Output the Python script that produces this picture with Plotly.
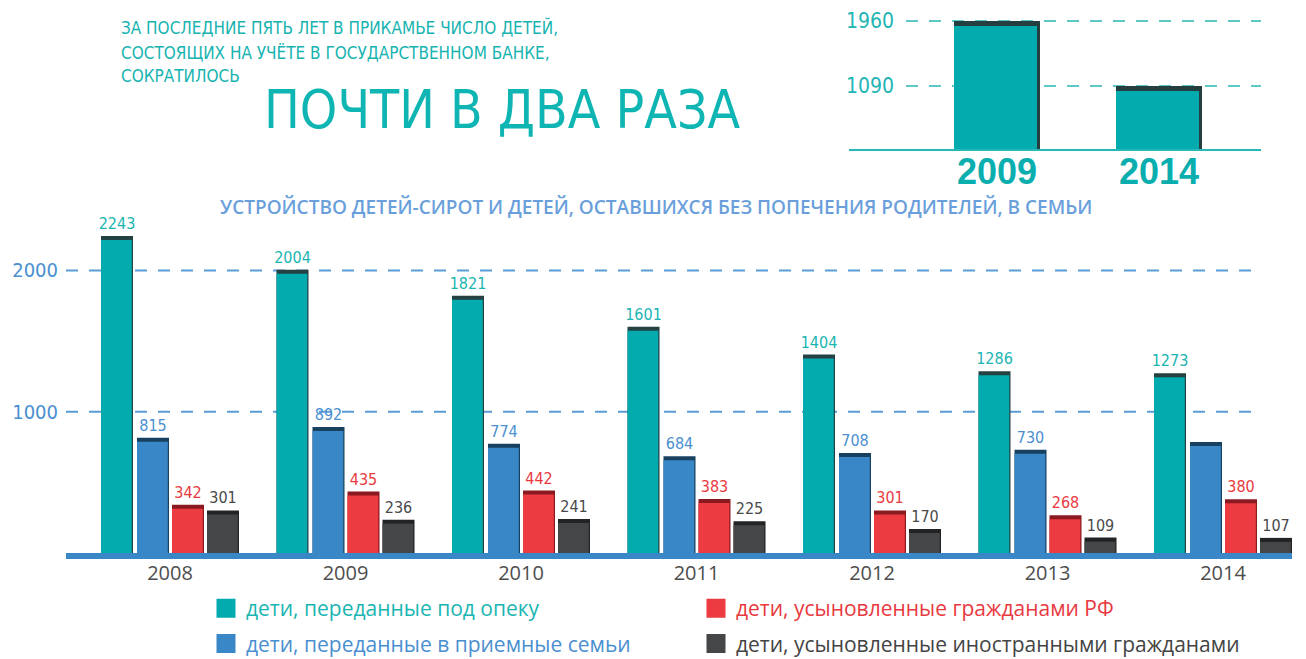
import plotly.graph_objects as go

# ---------------- data ----------------
years = [2008, 2009, 2010, 2011, 2012, 2013, 2014]
year_labels = ["2008", "2009", "2010", "2011", "2012", "2013", "2014"]

guardianship = [2243, 2004, 1821, 1601, 1404, 1286, 1273]      # под опеку
foster = [815, 892, 774, 684, 708, 730, 786]                   # в приемные семьи (2014 estimated, no label)
foster_labels = ["815", "892", "774", "684", "708", "730", ""]
adopted_rf = [342, 435, 442, 383, 301, 268, 380]               # усыновлённые гражданами РФ
adopted_foreign = [301, 236, 241, 225, 170, 109, 107]          # усыновлённые иностранцами

series_names = [
    "дети, переданные под опеку",
    "дети, переданные в приемные семьи",
    "дети, усыновленные гражданами РФ",
    "дети, усыновленные иностранными гражданами",
]

inset_years = ["2009", "2014"]
inset_values = [1960, 1090]

main_ticks = [1000, 2000]
main_tick_text = ["1000", "2000"]

# ---------------- styling ----------------
W, H = 1306, 659
NUM_FONT = "Noto Sans ExtraCondensed, Noto Sans Condensed, Liberation Sans Narrow, DejaVu Sans Condensed, sans-serif"
TXT_FONT = "Open Sans, Noto Sans, sans-serif"

body_colors = ["#03abae", "#3a87c8", "#ec3b41", "#454648"]
cap_colors = ["#254142", "#17415f", "#8a1a20", "#222324"]
label_colors = ["#1ab5b2", "#4a8fd0", "#e8393f", "#4a4a4a"]

# main plot geometry (px -> paper)
px_left, px_right, px_top, px_bottom = 66, 1292, 215, 553
grp0, pitch = 170, 175.5           # px centre of 2008 group and group pitch
x_lo = years[0] - (grp0 - px_left) / pitch
x_hi = years[0] + (px_right - grp0) / pitch
ppu_y = 0.1413                      # px per unit on main y
y_hi = (px_bottom - px_top) / ppu_y
bar_w = 32 / pitch
shadow = 1.2 / pitch
cap = 4 / ppu_y
offsets = [-69 / pitch, -33 / pitch, 2 / pitch, 37 / pitch]

fig = go.Figure()

all_vals = [guardianship, foster, adopted_rf, adopted_foreign]
all_text = [[str(v) for v in guardianship], foster_labels,
            [str(v) for v in adopted_rf], [str(v) for v in adopted_foreign]]

for i, vals in enumerate(all_vals):
    # dark full-height bar (forms cap + right shadow) with value label
    fig.add_trace(go.Bar(
        x=years, y=vals, width=bar_w, offset=offsets[i],
        marker=dict(color=cap_colors[i], line=dict(width=0)),
        text=all_text[i], textposition="outside", cliponaxis=False, constraintext="none",
        textfont=dict(family=NUM_FONT, size=16, color=label_colors[i]),
        showlegend=False, hoverinfo="skip",
    ))
    # body bar
    fig.add_trace(go.Bar(
        x=years, y=[v - cap for v in vals], width=bar_w - shadow, offset=offsets[i],
        marker=dict(color=body_colors[i], line=dict(width=0)),
        name=series_names[i], showlegend=False,
    ))

# legend proxies
legend_of = ["legend", "legend", "legend2", "legend2"]
legend_text_colors = ["#1ab5b2", "#4a8fd0", "#e8393f", "#444444"]
for i in [0, 1, 2, 3]:
    fig.add_trace(go.Scatter(
        x=[None], y=[None], mode="markers",
        marker=dict(symbol="square", size=16, color=body_colors[i],
                    line=dict(color=body_colors[i], width=3)),
        name=f'<span style="color:{legend_text_colors[i]}">{series_names[i]}</span>',
        legend=legend_of[i], legendgroup=f"g{i}", showlegend=True,
    ))

# inset bars
ix_left, ix_right, iy_top, iy_bottom = 849, 1261, 5, 149
ipitch = 162
ic0 = 997
ix_lo = -(ic0 - ix_left) / ipitch
ix_hi = (ix_right - ic0) / ipitch
ippu = 65 / 870
iy_lo = inset_values[1] - (iy_bottom - 86) / ippu
iy_hi = inset_values[0] + (21 - iy_top) / ippu
iw = 86 / ipitch
ishadow = 3 / ipitch
icap = 5 / ippu
fig.add_trace(go.Bar(
    x=inset_years, y=inset_values, width=iw, offset=-43 / ipitch,
    marker=dict(color="#253f40", line=dict(width=0)),
    xaxis="x2", yaxis="y2", showlegend=False, hoverinfo="skip",
))
fig.add_trace(go.Bar(
    x=inset_years, y=[v - icap for v in inset_values], width=iw - ishadow, offset=-43 / ipitch,
    marker=dict(color="#03abae", line=dict(width=0)),
    xaxis="x2", yaxis="y2", showlegend=False,
))

shapes = []
for t in main_ticks:
    shapes.append(dict(type="line", xref="x domain", yref="y", x0=0, x1=(1258 - px_left) / (px_right - px_left),
                       y0=t, y1=t, line=dict(color="#5a9bd8", width=2, dash="12px,11px"), layer="below"))
for t in inset_values:
    shapes.append(dict(type="line", xref="x2 domain", yref="y2", x0=(906 - ix_left) / (ix_right - ix_left), x1=1,
                       y0=t, y1=t, line=dict(color="#5cc9c7", width=2, dash="12px,11px"), layer="below"))

head_font = dict(family=NUM_FONT, size=17, color="#16b3b0")
annotations = [
    dict(text="ЗА ПОСЛЕДНИЕ ПЯТЬ ЛЕТ В ПРИКАМЬЕ ЧИСЛО ДЕТЕЙ,", x=119 / W, y=1 - 28 / H, xref="paper", yref="paper",
         xanchor="left", yanchor="middle", showarrow=False, font=head_font),
    dict(text="СОСТОЯЩИХ НА УЧЁТЕ В ГОСУДАРСТВЕННОМ БАНКЕ,", x=119 / W, y=1 - 53 / H, xref="paper", yref="paper",
         xanchor="left", yanchor="middle", showarrow=False, font=head_font),
    dict(text="СОКРАТИЛОСЬ", x=119 / W, y=1 - 76 / H, xref="paper", yref="paper",
         xanchor="left", yanchor="middle", showarrow=False, font=head_font),
    dict(text="ПОЧТИ В ДВА РАЗА", x=262 / W, y=1 - 109 / H, xref="paper", yref="paper",
         xanchor="left", yanchor="middle", showarrow=False,
         font=dict(family=NUM_FONT, size=53, color="#0fb5b3")),
    dict(text="УСТРОЙСТВО ДЕТЕЙ-СИРОТ И ДЕТЕЙ, ОСТАВШИХСЯ БЕЗ ПОПЕЧЕНИЯ РОДИТЕЛЕЙ, В СЕМЬИ",
         x=656 / W, y=1 - 207 / H, xref="paper", yref="paper",
         xanchor="center", yanchor="middle", showarrow=False,
         font=dict(family=TXT_FONT, size=19, color="#6a9fdc", weight=600)),
]

fig.update_layout(
    width=W, height=H,
    margin=dict(l=0, r=0, t=0, b=0, autoexpand=False),
    paper_bgcolor="white", plot_bgcolor="rgba(0,0,0,0)",
    barmode="overlay",
    xaxis=dict(domain=[px_left / W, px_right / W], range=[x_lo, x_hi],
               tickvals=years, ticktext=year_labels, showgrid=False, zeroline=False,
               showline=True, linewidth=6, linecolor="#3a87c8", ticks="", ticklabelstandoff=-3,
               tickfont=dict(family=TXT_FONT, size=20, color="#4d4d4d"), automargin=False,
               anchor="y"),
    yaxis=dict(domain=[1 - px_bottom / H, 1 - px_top / H], range=[0, y_hi],
               tickvals=main_ticks, ticktext=main_tick_text, showgrid=False, zeroline=False,
               showline=False, ticks="", ticklabelstandoff=7,
               tickfont=dict(family=NUM_FONT, size=20, color="#4a8fd0"), automargin=False,
               anchor="x"),
    xaxis2=dict(domain=[ix_left / W, ix_right / W], range=[ix_lo, ix_hi], type="category",
                showgrid=False, zeroline=False, showline=True, linewidth=2, linecolor="#27b9b7",
                ticks="", ticklabelstandoff=-10,
                tickfont=dict(family="Liberation Sans, Arial, sans-serif", size=36,
                              color="#0aaeae", weight="bold"),
                automargin=False, anchor="y2"),
    yaxis2=dict(domain=[1 - iy_bottom / H, 1 - iy_top / H], range=[iy_lo, iy_hi],
                tickvals=inset_values, ticktext=[str(v) for v in inset_values],
                ticklabelposition="inside", ticklabelstandoff=-6,
                showgrid=False, zeroline=False, showline=False, ticks="",
                tickfont=dict(family=NUM_FONT, size=21, color="#22b5b5"), automargin=False,
                anchor="x2"),
    legend=dict(x=206 / W, y=1 - 588 / H, xanchor="left", yanchor="top",
                orientation="v", tracegroupgap=5, bgcolor="rgba(0,0,0,0)",
                font=dict(family=TXT_FONT, size=21)),
    legend2=dict(x=696 / W, y=1 - 588 / H, xanchor="left", yanchor="top",
                 orientation="v", tracegroupgap=5, bgcolor="rgba(0,0,0,0)",
                 font=dict(family=TXT_FONT, size=21)),
    shapes=shapes,
    annotations=annotations,
    hovermode=False,
)

fig.write_html("out.html", config={"displayModeBar": False},
               post_script="document.body.style.margin='0';")
